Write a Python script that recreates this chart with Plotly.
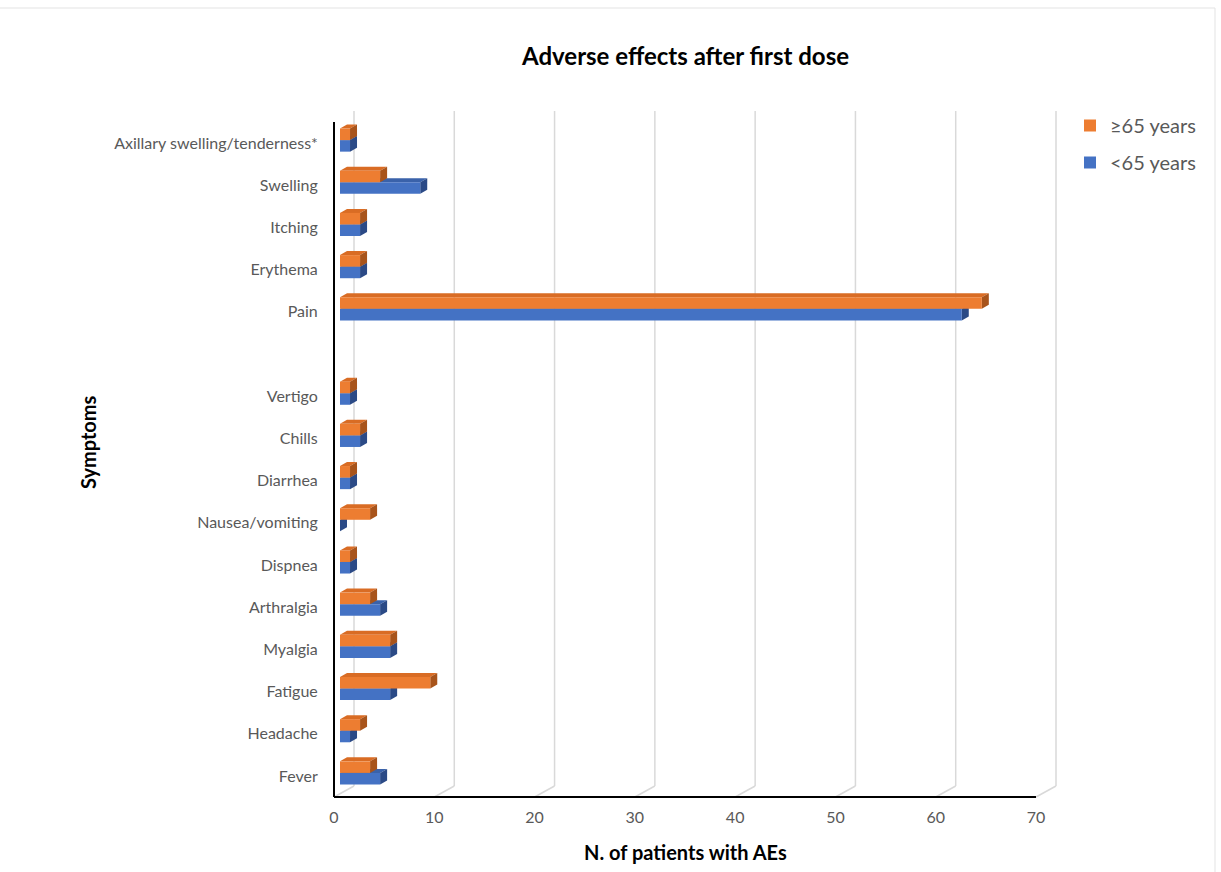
import plotly.graph_objects as go

# ---- data -------------------------------------------------------------
symptoms = ["Fever", "Headache", "Fatigue", "Myalgia", "Arthralgia", "Dispnea",
            "Nausea/vomiting", "Diarrhea", "Chills", "Vertigo", "",
            "Pain", "Erythema", "Itching", "Swelling",
            "Axillary swelling/tenderness*"]
under_65 = [4, 1, 5, 5, 4, 1, 0, 1, 2, 1, None, 62, 2, 2, 8, 1]
over_65 = [3, 2, 9, 5, 3, 1, 3, 1, 2, 1, None, 64, 2, 2, 4, 1]
x_ticks = [0, 10, 20, 30, 40, 50, 60, 70]

# name, values, front / top / side face colours, legend rank
series = [
    ("<65 years", under_65, "#4472C4", "#3A62AA", "#2B4A86", 2),
    ("\u226565 years", over_65, "#ED7D31", "#D96C24", "#A8541B", 1),
]

FONT = "Lato, 'Open Sans', sans-serif"

# ---- pseudo-3D geometry (pixels -> axis units) ------------------------
W, H = 1221, 872
ML, MR, MT, MB = 330, 160, 106, 71
FRONT_X0, FRONT_X1 = 334, 1036          # front floor edge, value 0 .. 70
FRONT_Y0, FRONT_Y1 = 797, 122           # front category band, bottom .. top
PX_X = (FRONT_X1 - FRONT_X0) / x_ticks[-1]
PX_Y = (FRONT_Y0 - FRONT_Y1) / len(symptoms)
DEPTH_X, DEPTH_Y = 20 / PX_X, 11 / PX_Y   # back wall offset
BAR_SHIFT_X, BAR_SHIFT_Y = 6, 3           # bar front plane inside the box (px)
CAP_X, CAP_Y = 7 / PX_X, 4 / PX_Y         # visible bar depth
BAR_W = 0.274                             # thickness of one bar (category units)

area_l, area_r = ML, W - MR
area_t, area_b = MT, H - MB
pw, ph = area_r - area_l, area_b - area_t


def px_to_paper(px, py):
    return (px - area_l) / pw, (area_b - py) / ph


frame_xr = [(area_l - FRONT_X0) / PX_X, (area_r - FRONT_X0) / PX_X]
frame_yr = [-0.5 - (area_b - FRONT_Y0) / PX_Y, -0.5 + (FRONT_Y0 - area_t) / PX_Y]
bx0, by0 = FRONT_X0 + BAR_SHIFT_X, FRONT_Y0 - BAR_SHIFT_Y
bars_xr = [(area_l - bx0) / PX_X, (area_r - bx0) / PX_X]
bars_yr = [-0.5 - (area_b - by0) / PX_Y, -0.5 + (by0 - area_t) / PX_Y]

ypos = list(range(len(symptoms)))
ybot, ytop = -0.5, len(symptoms) - 0.5

fig = go.Figure()
shapes = []

# chart-area border
bx_a, by_a = px_to_paper(-4, 8)
bx_b, by_b = px_to_paper(1215, 880)
shapes.append(dict(type="rect", xref="paper", yref="paper", layer="below",
                   x0=bx_a, y0=by_a, x1=bx_b, y1=by_b,
                   line=dict(color="#E3E3E3", width=1), fillcolor="rgba(0,0,0,0)"))

# back wall gridlines plus their floor diagonals
grid = dict(color="#D9D9D9", width=1.5)
for t in x_ticks:
    shapes.append(dict(type="line", xref="x", yref="y", layer="below",
                       x0=t + DEPTH_X, y0=ybot + DEPTH_Y,
                       x1=t + DEPTH_X, y1=ytop + DEPTH_Y, line=grid))
    shapes.append(dict(type="line", xref="x", yref="y", layer="below",
                       x0=t, y0=ybot, x1=t + DEPTH_X, y1=ybot + DEPTH_Y, line=grid))

# front axis lines
axis_line = dict(color="#000000", width=2)
shapes.append(dict(type="line", xref="x", yref="y", layer="below",
                   x0=0, y0=ybot, x1=0, y1=ytop, line=axis_line))
shapes.append(dict(type="line", xref="x", yref="y", layer="below",
                   x0=0, y0=ybot, x1=x_ticks[-1], y1=ybot, line=axis_line))

# bars: front faces as bar traces, top/side faces as shapes underneath
for k, (name, vals, c_front, c_top, c_side, rank) in enumerate(series):
    offset = -BAR_W if k == 0 else 0.0
    fig.add_trace(go.Bar(
        y=ypos, x=vals, orientation="h", name=name, legendrank=rank,
        width=BAR_W, offset=offset, marker=dict(color=c_front, line=dict(width=0)),
        xaxis="x2", yaxis="y2", legendgroup=name, hoverinfo="x+name"))
    for i, v in enumerate(vals):
        if v is None:
            continue
        y0, y1 = i + offset, i + offset + BAR_W
        shapes.append(dict(
            type="path", xref="x2", yref="y2", layer="below", line=dict(width=0),
            fillcolor=c_top,
            path=f"M 0,{y1} L {v},{y1} L {v + CAP_X},{y1 + CAP_Y} L {CAP_X},{y1 + CAP_Y} Z"))
        shapes.append(dict(
            type="path", xref="x2", yref="y2", layer="below", line=dict(width=0),
            fillcolor=c_side,
            path=f"M {v},{y0} L {v + CAP_X},{y0 + CAP_Y} L {v + CAP_X},{y1 + CAP_Y} L {v},{y1} Z"))

# dummy trace keeps the frame subplot alive
fig.add_trace(go.Scatter(x=[None], y=[None], xaxis="x", yaxis="y",
                         showlegend=False, hoverinfo="skip"))

tick_font = dict(family=FONT, size=16, color="#595959")
tx, ty = px_to_paper(685, 55)
xtx, xty = px_to_paper(685, 852)
ytx, yty = px_to_paper(88, 442)
leg_x, leg_y = px_to_paper(1070, 106)

fig.update_layout(
    width=W, height=H,
    margin=dict(l=ML, r=MR, t=MT, b=MB),
    paper_bgcolor="white", plot_bgcolor="rgba(0,0,0,0)",
    barmode="overlay",
    showlegend=True,
    shapes=shapes,
    xaxis=dict(range=frame_xr, tickvals=x_ticks, ticktext=[str(t) for t in x_ticks],
               showgrid=False, zeroline=False, showline=False,
               ticks="outside", ticklen=2, tickcolor="rgba(0,0,0,0)",
               tickfont=tick_font, fixedrange=True),
    yaxis=dict(range=frame_yr, tickvals=ypos, ticktext=symptoms,
               showgrid=False, zeroline=False, showline=False,
               ticks="outside", ticklen=8, tickcolor="rgba(0,0,0,0)",
               tickfont=tick_font, fixedrange=True),
    xaxis2=dict(range=bars_xr, anchor="y2", visible=False, fixedrange=True),
    yaxis2=dict(range=bars_yr, anchor="x2", visible=False, fixedrange=True),
    legend=dict(x=leg_x, y=leg_y, xanchor="left", yanchor="top",
                traceorder="grouped", tracegroupgap=8,
                font=dict(family=FONT, size=20, color="#595959"),
                bgcolor="rgba(0,0,0,0)"),
    annotations=[
        dict(text="<b>Adverse effects after first dose</b>", xref="paper", yref="paper",
             x=tx, y=ty, xanchor="center", yanchor="middle", showarrow=False,
             font=dict(family=FONT, size=24, color="#000000")),
        dict(text="<b>N. of patients with AEs</b>", xref="paper", yref="paper",
             x=xtx, y=xty, xanchor="center", yanchor="middle", showarrow=False,
             font=dict(family=FONT, size=20, color="#000000")),
        dict(text="<b>Symptoms</b>", xref="paper", yref="paper", textangle=-90,
             x=ytx, y=yty, xanchor="center", yanchor="middle", showarrow=False,
             font=dict(family=FONT, size=20, color="#000000")),
    ],
)

fig.write_html("out.html")
